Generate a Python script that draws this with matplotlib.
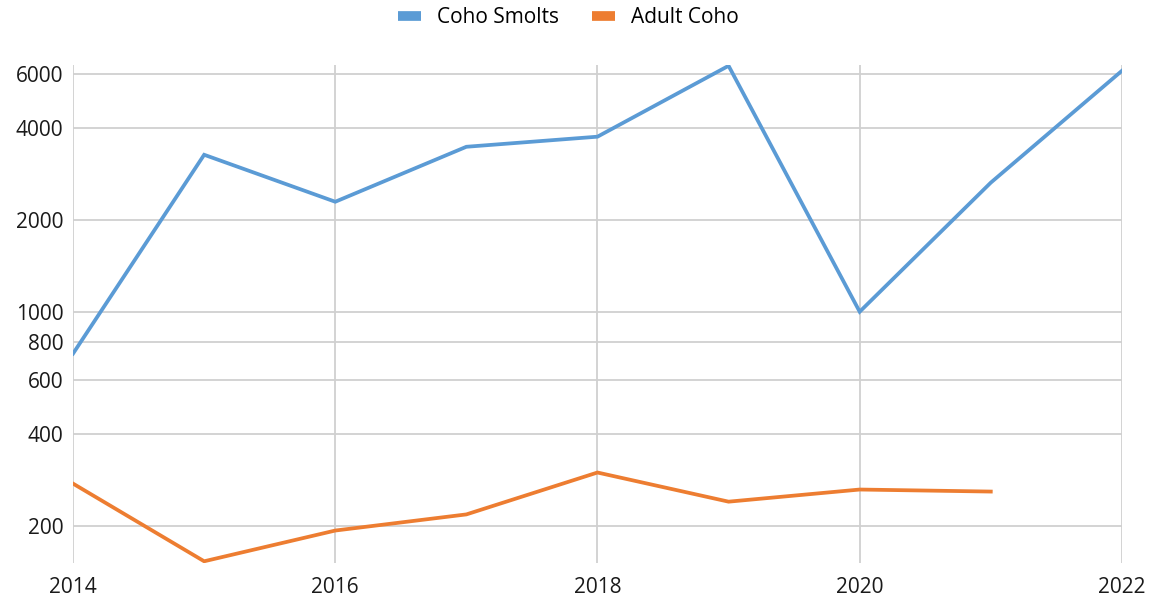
import matplotlib.pyplot as plt
import matplotlib.ticker as mticker
import numpy as np

years = [2014, 2015, 2016, 2017, 2018, 2019, 2020, 2021, 2022]
coho_smolts = [733, 3265, 2294, 3467, 3740, 6370, 1004, 2648, 6135]
adult_years = [2014, 2015, 2016, 2017, 2018, 2019, 2020, 2021]
adult_coho = [276, 154, 194, 219, 300, 241, 264, 260]

y_ticks = [200, 400, 600, 800, 1000, 2000, 4000, 6000]
x_ticks = [2014, 2016, 2018, 2020, 2022]

plt.rcParams['font.family'] = ['Open Sans', 'DejaVu Sans']
plt.rcParams['font.size'] = 15

fig = plt.figure(figsize=(11.65, 5.98), dpi=100)
ax = fig.add_axes([0.0627, 0.0585, 0.9003, 0.8325])

ax.plot(years, coho_smolts, color='#5b9bd5', lw=2.7, label='Coho Smolts', solid_joinstyle='miter')
ax.plot(adult_years, adult_coho, color='#ed7d31', lw=2.7, label='Adult Coho', solid_joinstyle='miter')

ax.set_yscale('log')
ax.set_ylim(152, 6400)
ax.set_xlim(2014, 2022)
ax.yaxis.set_major_locator(mticker.FixedLocator(y_ticks))
ax.yaxis.set_major_formatter(mticker.FixedFormatter([str(t) for t in y_ticks]))
ax.yaxis.set_minor_locator(mticker.NullLocator())
ax.set_xticks(x_ticks)
ax.set_xticklabels([str(t) for t in x_ticks])

ax.grid(True, color='#d0d0d0', lw=1.3)
ax.set_axisbelow(True)
for s in ax.spines.values():
    s.set_visible(False)
ax.tick_params(length=0, labelsize=15, colors='#1a1a1a')
ax.tick_params(axis='x', pad=10)
ax.tick_params(axis='y', pad=7)

leg = fig.legend(loc='upper center', bbox_to_anchor=(0.488, 1.02), ncol=2, frameon=False,
                 handlelength=1.1, handleheight=0.6, handletextpad=0.75,
                 columnspacing=1.6, fontsize=15)
for h in leg.get_lines():
    h.set_linewidth(7)
    h.set_solid_capstyle('butt')

fig.savefig('out.png', dpi=100)
